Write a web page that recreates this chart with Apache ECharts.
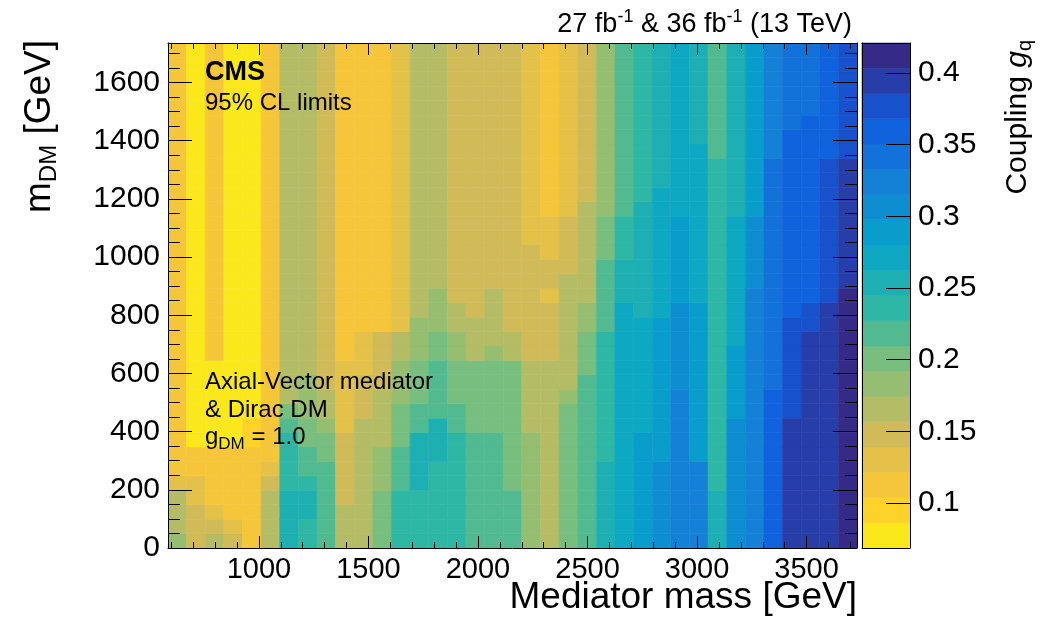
<!DOCTYPE html>
<html>
<head>
<meta charset="utf-8">
<title>Coupling limits</title>
<script src="https://cdn.jsdelivr.net/npm/echarts@6/dist/echarts.min.js"></script>
<style>
html, body { margin: 0; padding: 0; background: #fff; }
#chart { width: 1051px; height: 621px; }
</style>
</head>
<body>
<div id="chart"></div>
<script>
// binning of the limit map (GeV)
const massLow = 585, massBin = 85;
const mdmLow = 0, mdmBin = 49.6;

// coupling scale of the colour bar, 20 contour bands
const gMin = 0.0686, gMax = 0.421, nBands = 20;

// contour band of every cell (0 = lowest g_q band, 19 = highest)
// one array per mediator-mass column, from m_DM = 0 upwards
const bandColumns = [
  [6,5,5,5,3, 2,2,2,2,2, 2,2,2,2,2, 2,2,2,2,2, 2,2,2,2,2, 2,2,2,2,2, 2,2,2,2,2],
  [4,4,4,3,3, 2,2,0,0,0, 0,0,0,0,0, 0,0,0,0,0, 0,0,0,0,0, 0,0,0,0,0, 0,0,0,0,0],
  [5,4,3,2,2, 2,2,0,0,0, 0,0,0,2,2, 2,2,2,2,2, 2,2,2,2,2, 2,2,2,2,2, 2,2,2,2,2],
  [4,3,2,2,2, 2,2,0,0,0, 0,0,0,0,0, 0,0,0,0,0, 0,0,0,0,0, 0,0,0,0,0, 0,0,0,0,0],
  [2,2,2,2,2, 2,2,1,1,0, 0,0,0,0,0, 0,0,0,0,0, 0,0,0,0,0, 0,0,0,0,0, 0,0,0,0,0],
  [5,5,5,5,4, 3,2,2,2,2, 2,2,2,2,2, 2,2,2,2,2, 2,2,2,2,2, 2,2,2,2,2, 2,2,2,2,2],
  [10,10,10,10,9, 9,9,9,8,7, 5,5,5,5,5, 5,5,5,5,5, 5,5,5,5,5, 5,5,5,5,5, 5,5,5,5,5],
  [9,9,10,10,9, 8,8,7,7,6, 6,6,5,5,5, 5,5,5,5,5, 5,5,5,5,5, 5,5,5,5,5, 5,5,5,5,5],
  [8,8,8,8,8, 8,7,7,6,5, 5,4,4,4,4, 4,4,4,4,4, 4,4,4,4,4, 4,4,4,4,4, 4,4,4,4,4],
  [5,5,5,4,4, 4,4,4,3,3, 3,3,3,2,2, 2,2,2,2,2, 2,2,2,2,2, 2,2,2,2,2, 2,2,2,2,2],
  [5,5,5,5,5, 5,5,5,5,4, 4,4,3,3,3, 2,2,2,2,2, 2,2,2,2,2, 2,2,2,2,2, 2,2,2,2,2],
  [7,7,7,7,6, 6,6,5,5,5, 5,4,4,4,4, 2,2,2,2,2, 2,2,2,2,2, 2,2,2,2,2, 2,2,2,2,2],
  [9,9,9,9,8, 8,8,7,7,7, 6,6,6,5,5, 3,3,3,3,3, 3,3,3,3,3, 3,3,3,3,3, 3,3,3,3,3],
  [9,9,9,9,10, 10,10,10,8,8, 7,7,7,6,6, 6,5,5,5,5, 5,5,5,5,5, 5,5,5,5,5, 5,5,5,5,5],
  [9,9,9,9,9, 9,10,10,10,8, 8,8,8,7,7, 6,6,6,5,5, 5,5,5,5,5, 5,5,5,5,5, 5,5,5,5,5],
  [9,9,9,9,9, 9,9,9,8,8, 7,7,7,6,6, 5,5,4,4,4, 4,4,4,4,4, 4,4,4,4,4, 4,4,4,4,4],
  [8,8,8,8,8, 8,8,8,7,7, 7,7,7,5,5, 5,4,4,4,4, 4,4,4,4,4, 4,4,4,4,4, 4,4,4,4,4],
  [8,8,8,8,8, 8,8,8,7,7, 7,7,7,6,5, 5,5,5,4,4, 4,4,4,4,4, 4,4,4,4,4, 4,4,4,4,4],
  [8,8,8,8,7, 7,7,7,7,7, 7,7,7,5,5, 4,4,4,4,4, 4,4,4,4,4, 4,4,4,4,4, 4,4,4,4,4],
  [6,6,6,6,6, 6,6,6,5,5, 5,5,5,4,4, 4,4,4,4,4, 4,3,3,3,3, 3,3,3,3,3, 3,3,3,3,3],
  [5,5,5,5,5, 5,5,5,5,5, 5,5,5,4,4, 4,4,3,4,4, 3,3,3,2,2, 2,2,2,2,2, 2,2,2,2,2],
  [7,7,7,7,7, 7,7,7,7,7, 6,5,5,5,5, 5,5,5,5,4, 4,4,4,3,3, 3,3,3,3,3, 3,3,3,3,3],
  [8,8,8,8,8, 8,8,8,8,8, 8,8,7,7,7, 6,6,5,5,5, 5,5,5,5,4, 4,4,4,4,4, 4,4,4,4,4],
  [10,10,10,10,10, 10,9,9,9,9, 9,9,9,9,9, 8,8,8,8,8, 7,7,7,6,6, 6,6,6,6,6, 6,6,6,6,6],
  [11,11,11,11,11, 11,11,11,11,11, 11,11,11,11,11, 11,11,10,10,10, 9,9,9,8,8, 8,8,8,8,8, 8,8,8,8,8],
  [12,12,12,12,12, 12,12,12,11,11, 11,11,11,11,11, 11,10,10,10,10, 10,10,10,10,9, 9,9,9,9,9, 9,9,9,9,9],
  [13,13,13,13,13, 13,12,12,12,12, 12,12,12,12,12, 12,11,11,11,11, 11,11,11,11,11, 10,10,10,10,10, 10,10,10,10,10],
  [14,14,14,14,14, 14,14,14,14,14, 14,13,13,13,13, 13,13,12,12,12, 12,12,12,11,11, 11,11,11,11,11, 11,11,11,11,11],
  [14,14,14,14,14, 14,12,12,12,12, 12,12,12,12,12, 12,12,11,11,11, 11,11,11,11,11, 11,11,11,10,10, 10,10,10,10,10],
  [10,10,10,10,9, 9,9,9,9,9, 9,9,9,9,9, 9,9,9,9,9, 9,9,9,9,9, 9,9,8,8,8, 8,8,8,8,8],
  [13,13,13,13,13, 13,13,13,13,12, 12,12,12,12,11, 11,11,11,11,11, 11,11,11,10,10, 10,10,10,10,10, 10,10,10,10,10],
  [14,14,14,14,14, 14,14,14,14,14, 14,14,14,14,14, 14,14,14,13,13, 13,13,13,12,12, 12,12,12,12,12, 12,12,12,12,12],
  [16,16,16,16,16, 16,16,16,16,16, 16,15,15,15,15, 15,15,15,15,15, 15,15,15,15,15, 15,15,14,14,14, 14,14,14,14,14],
  [18,18,18,18,18, 18,18,18,18,17, 17,17,17,17,17, 17,16,16,16,16, 16,16,16,16,16, 16,16,16,16,15, 15,15,15,15,15],
  [18,18,18,18,18, 18,18,18,18,18, 18,18,18,18,18, 17,17,16,16,16, 16,16,16,16,16, 16,16,16,16,16, 15,15,15,15,15],
  [18,18,18,18,18, 18,18,18,18,18, 18,18,18,18,18, 18,18,17,17,17, 17,17,17,17,17, 17,17,16,16,16, 16,16,16,16,16],
  [19,19,19,19,19, 19,19,19,19,19, 19,19,19,19,19, 19,19,19,18,18, 18,18,18,18,18, 18,18,17,17,17, 17,17,17,17,17]
];

// axis ticks
const xMajorTicks = [1000, 1500, 2000, 2500, 3000, 3500];
const xMinorTicks = [600, 700, 800, 900, 1000, 1100, 1200, 1300, 1400, 1500, 1600, 1700, 1800, 1900,
  2000, 2100, 2200, 2300, 2400, 2500, 2600, 2700, 2800, 2900, 3000, 3100, 3200, 3300, 3400, 3500, 3600, 3700];
const yMajorTicks = [0, 200, 400, 600, 800, 1000, 1200, 1400, 1600];
const yMinorTicks = [0, 50, 100, 150, 200, 250, 300, 350, 400, 450, 500, 550, 600, 650, 700, 750, 800, 850,
  900, 950, 1000, 1050, 1100, 1150, 1200, 1250, 1300, 1350, 1400, 1450, 1500, 1550, 1600, 1650, 1700];
const gTicks = [0.1, 0.15, 0.2, 0.25, 0.3, 0.35, 0.4];

const FONT = '"Liberation Sans", Arial, Helvetica, sans-serif';

// ROOT kBird palette, inverted (yellow = small coupling)
const birdStops = [0.0, 0.125, 0.25, 0.375, 0.5, 0.625, 0.75, 0.875, 1.0];
const birdR = [0.2082, 0.0592, 0.0780, 0.0232, 0.1802, 0.5301, 0.8186, 0.9956, 0.9764];
const birdG = [0.1664, 0.3599, 0.5041, 0.6419, 0.7178, 0.7492, 0.7328, 0.7862, 0.9832];
const birdB = [0.5293, 0.8684, 0.8385, 0.7914, 0.6425, 0.4662, 0.3499, 0.1968, 0.0539];
function bird(p) {
  let k = 0;
  while (k < birdStops.length - 2 && p > birdStops[k + 1]) k++;
  const t = (p - birdStops[k]) / (birdStops[k + 1] - birdStops[k]);
  const ch = a => Math.round(255 * (a[k] + (a[k + 1] - a[k]) * t));
  return 'rgb(' + ch(birdR) + ',' + ch(birdG) + ',' + ch(birdB) + ')';
}
function bandColor(i) {
  const idx = Math.min(254, Math.floor((i + 0.99) * 255 / nBands));
  return bird(1 - idx / 254);
}

const bandStep = (gMax - gMin) / nBands;
const pieces = [];
const colorBar = [];
for (let i = 0; i < nBands; i++) {
  const lo = gMin + i * bandStep, hi = lo + bandStep;
  pieces.push({ gte: lo, lt: hi, color: bandColor(i) });
  colorBar.push([0, 1, lo, hi, lo + bandStep / 2]);
}

const cells = [];
bandColumns.forEach(function (col, c) {
  col.forEach(function (band, r) {
    cells.push([massLow + c * massBin, massLow + (c + 1) * massBin,
      mdmLow + r * mdmBin, mdmLow + (r + 1) * mdmBin, gMin + (band + 0.5) * bandStep]);
  });
});

function renderCell(params, api) {
  const p0 = api.coord([api.value(0), api.value(3)]);
  const p1 = api.coord([api.value(1), api.value(2)]);
  const color = api.visual('color');
  return {
    type: 'rect',
    shape: { x: p0[0], y: p0[1], width: p1[0] - p0[0], height: p1[1] - p0[1] },
    style: { fill: color, stroke: color, lineWidth: 0.6 }
  };
}

function frameAxis(gridIndex, position, opts) {
  const ax = {
    type: 'value', gridIndex: gridIndex, position: position, z: 10,
    min: opts.min, max: opts.max,
    splitLine: { show: false },
    axisLine: { show: opts.line !== false, onZero: false, lineStyle: { color: '#000', width: 1 } },
    axisTick: { show: !!opts.ticks, inside: true, length: opts.len || 0,
      customValues: opts.ticks || [], lineStyle: { color: '#000', width: 1 } },
    axisLabel: { show: false }
  };
  if (opts.labels) {
    ax.axisLabel = { show: true, customValues: opts.ticks, fontFamily: FONT, fontSize: opts.fontSize,
      color: '#000', margin: opts.margin, formatter: v => String(v) };
  }
  return ax;
}

const plotBox = { left: 168, top: 43, width: 689, height: 505 };
const xr = { min: massLow, max: massLow + 37 * massBin };
const yr = { min: mdmLow, max: mdmLow + 35 * mdmBin };

const option = {
  animation: false,
  backgroundColor: '#fff',
  grid: [
    plotBox,
    plotBox,
    { left: 862, top: 43, width: 48, height: 505 }
  ],
  xAxis: [
    frameAxis(0, 'bottom', Object.assign({ ticks: xMajorTicks, len: 12, labels: true, margin: 7, fontSize: 29 }, xr)),
    frameAxis(0, 'top', Object.assign({ ticks: xMajorTicks, len: 12 }, xr)),
    frameAxis(1, 'bottom', Object.assign({ ticks: xMinorTicks, len: 6, line: false }, xr)),
    frameAxis(1, 'top', Object.assign({ ticks: xMinorTicks, len: 6, line: false }, xr)),
    frameAxis(2, 'bottom', { min: 0, max: 1 }),
    frameAxis(2, 'top', { min: 0, max: 1 })
  ],
  yAxis: [
    frameAxis(0, 'left', Object.assign({ ticks: yMajorTicks, len: 24, labels: true, margin: 8, fontSize: 30 }, yr)),
    frameAxis(0, 'right', Object.assign({ ticks: yMajorTicks, len: 24 }, yr)),
    frameAxis(1, 'left', Object.assign({ ticks: yMinorTicks, len: 12, line: false }, yr)),
    frameAxis(1, 'right', Object.assign({ ticks: yMinorTicks, len: 12, line: false }, yr)),
    frameAxis(2, 'right', { min: gMin, max: gMax, ticks: gTicks, len: 24, labels: true, margin: 8, fontSize: 30 }),
    frameAxis(2, 'left', { min: gMin, max: gMax })
  ],
  visualMap: {
    type: 'piecewise', show: false, dimension: 4, seriesIndex: [0, 1], pieces: pieces
  },
  series: [
    { type: 'custom', xAxisIndex: 0, yAxisIndex: 0, renderItem: renderCell,
      encode: { x: [0, 1], y: [2, 3] }, data: cells, clip: true, silent: true },
    { type: 'custom', xAxisIndex: 4, yAxisIndex: 4, renderItem: renderCell,
      encode: { x: [0, 1], y: [2, 3] }, data: colorBar, silent: true }
  ],
  graphic: [
    { type: 'text', x: 852, y: 25, z: 20, style: {
      text: '27 fb{sup|-1} & 36 fb{sup|-1} (13 TeV)', align: 'right', verticalAlign: 'middle',
      font: '27px ' + FONT, fill: '#000',
      rich: { sup: { fontSize: 18, fontFamily: FONT, padding: [0, 0, 16, 0] } } } },
    { type: 'text', x: 205, y: 73, z: 20, style: {
      text: 'CMS', font: 'bold 27px ' + FONT, fill: '#000', verticalAlign: 'middle' } },
    { type: 'text', x: 205, y: 103, z: 20, style: {
      text: '95% CL limits', font: '24px ' + FONT, fill: '#000', verticalAlign: 'middle' } },
    { type: 'text', x: 205, y: 382, z: 20, style: {
      text: 'Axial-Vector mediator', font: '24px ' + FONT, fill: '#000', verticalAlign: 'middle' } },
    { type: 'text', x: 205, y: 410, z: 20, style: {
      text: '& Dirac DM', font: '24px ' + FONT, fill: '#000', verticalAlign: 'middle' } },
    { type: 'text', x: 205, y: 437, z: 20, style: {
      text: 'g{sub|DM} = 1.0', font: '24px ' + FONT, fill: '#000', verticalAlign: 'middle',
      rich: { sub: { fontSize: 17, fontFamily: FONT, padding: [14, 0, 0, 0] } } } },
    { type: 'text', x: 857, y: 598, z: 20, style: {
      text: 'Mediator mass [GeV]', font: '37px ' + FONT, fill: '#000', align: 'right', verticalAlign: 'middle' } },
    { type: 'text', x: 40, y: 40, rotation: Math.PI / 2, z: 20, style: {
      text: 'm{sub|DM} [GeV]', font: '37px ' + FONT, fill: '#000', align: 'right', verticalAlign: 'middle',
      rich: { sub: { fontSize: 24, fontFamily: FONT, padding: [18, 0, 0, 0] } } } },
    { type: 'text', x: 1018, y: 40, rotation: Math.PI / 2, z: 20, style: {
      text: 'Coupling {it|g}{sub|q}', font: '30px ' + FONT, fill: '#000', align: 'right', verticalAlign: 'middle',
      rich: { it: { fontStyle: 'italic', fontSize: 30, fontFamily: FONT },
              sub: { fontSize: 20, fontFamily: FONT, padding: [14, 0, 0, 0] } } } }
  ]
};

const chart = echarts.init(document.getElementById('chart'));
chart.setOption(option);
</script>
</body>
</html>
